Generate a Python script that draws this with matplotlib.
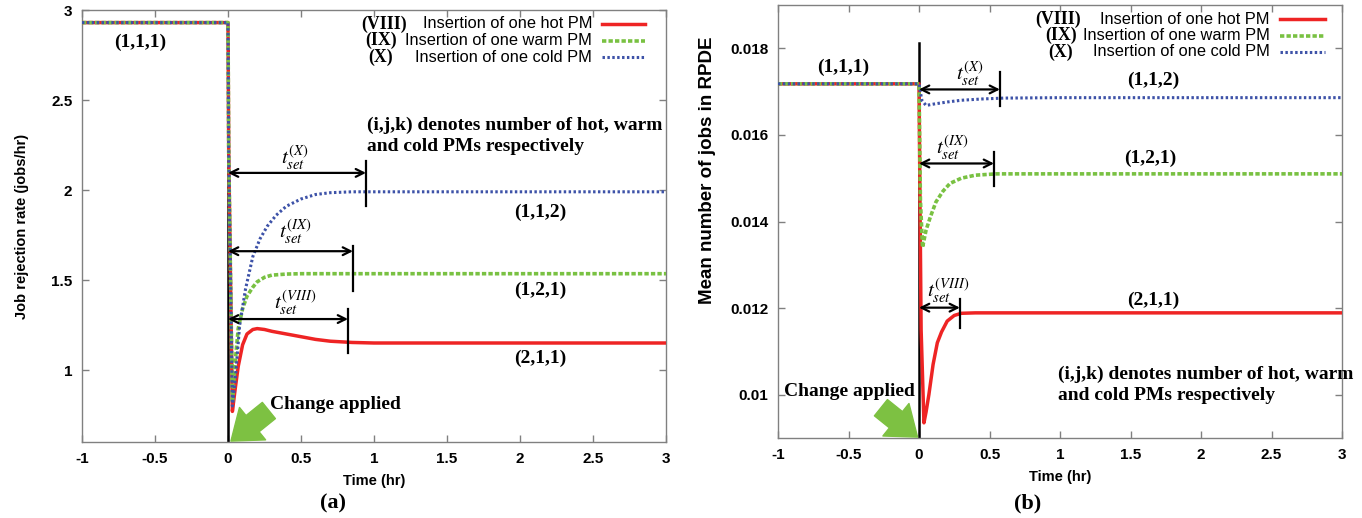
import matplotlib
matplotlib.use("Agg")
import matplotlib.pyplot as plt
from matplotlib.lines import Line2D
import numpy as np

# ---- data ----
# (a) job rejection rate (jobs/hr)
t_hot_a = [-1, 0, 0.005, 0.03, 0.05, 0.07, 0.1, 0.13, 0.17, 0.2, 0.25, 0.3, 0.4, 0.5, 0.6, 0.7, 0.85, 1.0, 3]
hot_a = [2.93, 2.93, 2.2, 0.77, 0.9, 1.02, 1.14, 1.2, 1.225, 1.23, 1.225, 1.215, 1.2, 1.185, 1.17, 1.16, 1.153, 1.15, 1.15]
t_warm_a = [-1, 0, 0.005, 0.03, 0.05, 0.07, 0.1, 0.13, 0.17, 0.2, 0.25, 0.3, 0.4, 0.5, 3]
warm_a = [2.93, 2.93, 2.2, 0.82, 1.05, 1.23, 1.34, 1.41, 1.46, 1.49, 1.515, 1.527, 1.533, 1.535, 1.535]
t_cold_a = [-1, 0, 0.005, 0.03, 0.05, 0.08, 0.12, 0.17, 0.22, 0.27, 0.33, 0.4, 0.5, 0.6, 0.7, 0.85, 1.0, 3]
cold_a = [2.93, 2.93, 2.2, 0.8, 0.95, 1.25, 1.45, 1.63, 1.73, 1.8, 1.86, 1.91, 1.95, 1.975, 1.985, 1.99, 1.99, 1.99]

# (b) mean number of jobs in RPDE
t_hot_b = [-1, 0, 0.015, 0.035, 0.05, 0.07, 0.1, 0.13, 0.16, 0.2, 0.25, 0.3, 0.4, 3]
hot_b = [0.01718, 0.01718, 0.0115, 0.00935, 0.0096, 0.0100, 0.0107, 0.0112, 0.01145, 0.0117, 0.01183, 0.01188, 0.01189, 0.01189]
t_warm_b = [-1, 0, 0.01, 0.025, 0.05, 0.08, 0.12, 0.17, 0.22, 0.3, 0.4, 0.55, 3]
warm_b = [0.01718, 0.01718, 0.0145, 0.0134, 0.0138, 0.0141, 0.01445, 0.0147, 0.01488, 0.0150, 0.01507, 0.0151, 0.0151]
t_cold_b = [-1, 0, 0.02, 0.05, 0.1, 0.2, 0.3, 0.45, 0.6, 1.0, 3]
cold_b = [0.01718, 0.01718, 0.0168, 0.01668, 0.01671, 0.01676, 0.0168, 0.01683, 0.01685, 0.01686, 0.01686]

legend_tags = ["(VIII)", "(IX)", "(X)"]
legend_texts = ["Insertion of one hot PM", "Insertion of one warm PM", "Insertion of one cold PM"]
tset_tags = ["X", "IX", "VIII"]

# settling-time markers: (end time, arrow y, bar low, bar high)
tset_a = [(0.945, 2.095, 1.91, 2.16), (0.856, 1.66, 1.44, 1.69), (0.822, 1.283, 1.094, 1.34)]
tset_b = [(0.574, 0.01705, 0.01666, 0.01745), (0.532, 0.01534, 0.01481, 0.0156), (0.29, 0.01201, 0.01153, 0.01222)]

RED = "#ee2424"
GREEN = "#79c142"
BLUE = "#3d52a8"
ARROW_GREEN = "#7dc142"

plt.rcParams["mathtext.fontset"] = "stix"
SERIF = "Liberation Serif"
SANS = "Liberation Sans"

fig = plt.figure(figsize=(13.62, 5.18), dpi=100)
ax1 = fig.add_axes([82 / 1362, 1 - 442 / 518, 584 / 1362, 432 / 518])
ax2 = fig.add_axes([778 / 1362, 1 - 438 / 518, 564 / 1362, 433 / 518])


def draw_curves(ax, th, h, tw, w, tc, c):
    ax.plot(th, h, color=RED, lw=2.5, solid_joinstyle="round", zorder=3)
    ax.plot(tw, w, color=GREEN, lw=2.6, dashes=(1.2, 0.6), zorder=4)
    ax.plot(tc, c, color=BLUE, lw=2.2, dashes=(0.8, 0.8), zorder=5)


def style_axes(ax):
    for s in ax.spines.values():
        s.set_color("#808080")
        s.set_linewidth(1.0)
    ax.tick_params(direction="in", top=True, right=True, length=5, width=1,
                   color="#808080", pad=7, labelsize=11)
    for lab in ax.get_xticklabels() + ax.get_yticklabels():
        lab.set_fontfamily(SANS)
        lab.set_fontweight("bold")


def draw_legend(ax, rows_y, text_x, tag_x, line_x0, line_x1):
    styles = [dict(color=RED, lw=2.5),
              dict(color=GREEN, lw=2.6, dashes=(1.2, 0.6)),
              dict(color=BLUE, lw=2.2, dashes=(0.8, 0.8))]
    for y, tag, txt, tx, st in zip(rows_y, legend_tags, legend_texts, tag_x, styles):
        ax.text(tx, y, tag, transform=ax.transAxes, family=SERIF, weight="bold",
                fontsize=12.8, ha="left", va="center")
        ax.text(text_x, y, txt, transform=ax.transAxes, family=SANS,
                fontsize=11.8, ha="right", va="center")
        ax.add_line(Line2D([line_x0, line_x1], [y, y], transform=ax.transAxes, **st))


def draw_tset(ax, marks, label_pos):
    for (xe, ya, lo, hi), tag, (lx, ly) in zip(marks, tset_tags, label_pos):
        ax.annotate("", xy=(xe, ya), xytext=(0, ya),
                    arrowprops=dict(arrowstyle="<->", color="black", lw=1.6,
                                    shrinkA=0, shrinkB=0, mutation_scale=14), zorder=6)
        ax.plot([xe, xe], [lo, hi], color="black", lw=1.6, zorder=6)
        ax.text(lx, ly, r"$t_{set}^{(" + tag + ")}$", fontsize=15, ha="center", va="center")


def serif_text(ax, x, y, s, **kw):
    kw.setdefault("ha", "center")
    kw.setdefault("va", "center")
    ax.text(x, y, s, family=SERIF, weight="bold", fontsize=14, **kw)


# ---------- panel (a) ----------
draw_curves(ax1, t_hot_a, hot_a, t_warm_a, warm_a, t_cold_a, cold_a)
ax1.plot([0, 0], [0.6, 2.79], color="black", lw=1.8, zorder=2)
ax1.set_xlim(-1, 3)
ax1.set_ylim(0.6, 3)
ax1.set_xticks(np.arange(-1, 3.01, 0.5))
ax1.set_xticklabels(["-1", "-0.5", "0", "0.5", "1", "1.5", "2", "2.5", "3"])
ax1.set_yticks([1, 1.5, 2, 2.5, 3])
ax1.set_yticklabels(["1", "1.5", "2", "2.5", "3"])
style_axes(ax1)
ax1.set_xlabel("Time (hr)", family=SANS, weight="bold", fontsize=10.5, labelpad=6)
ax1.set_ylabel("Job rejection rate (jobs/hr)", family=SANS, weight="bold", fontsize=10.5, labelpad=16)

draw_legend(ax1, [1 - 14 / 432, 1 - 30.5 / 432, 1 - 47 / 432], 0.8733,
            [0.479, 0.485, 0.490], 0.890, 0.964)
draw_tset(ax1, tset_a, [(0.46, 2.18), (0.46, 1.767), (0.46, 1.372)])
serif_text(ax1, -0.6, 2.82, "(1,1,1)")
serif_text(ax1, 2.14, 1.876, "(1,1,2)")
serif_text(ax1, 2.14, 1.44, "(1,2,1)")
serif_text(ax1, 2.14, 1.067, "(2,1,1)")
serif_text(ax1, 0.952, 2.303, "(i,j,k) denotes number of hot, warm\nand cold PMs respectively",
           ha="left", linespacing=1.3)
serif_text(ax1, 0.288, 0.81, "Change applied", ha="left")
ax1.annotate("", xy=(0.02, 0.605), xytext=(0.28, 0.775),
             arrowprops=dict(arrowstyle="simple,head_width=1.5,head_length=1.0,tail_width=0.75",
                             color=ARROW_GREEN, shrinkA=0, shrinkB=0, mutation_scale=20),
             annotation_clip=False, zorder=7)

# ---------- panel (b) ----------
draw_curves(ax2, t_hot_b, hot_b, t_warm_b, warm_b, t_cold_b, cold_b)
ax2.plot([0, 0], [0.009, 0.01812], color="black", lw=1.8, zorder=2)
ax2.set_xlim(-1, 3)
ax2.set_ylim(0.009, 0.019)
ax2.set_xticks(np.arange(-1, 3.01, 0.5))
ax2.set_xticklabels(["-1", "-0.5", "0", "0.5", "1", "1.5", "2", "2.5", "3"])
ax2.set_yticks([0.010, 0.012, 0.014, 0.016, 0.018])
ax2.set_yticklabels(["0.01", "0.012", "0.014", "0.016", "0.018"])
style_axes(ax2)
ax2.set_xlabel("Time (hr)", family=SANS, weight="bold", fontsize=10.5, labelpad=6)
fig.text(707 / 1362, 1 - 170 / 518, "Mean number of jobs in RPDE", family=SANS, weight="bold",
         fontsize=13.5, rotation=90, ha="center", va="center")

draw_legend(ax2, [1 - 14 / 433, 1 - 30.5 / 433, 1 - 47 / 433], (1270 - 778) / 564,
            [(1035 - 778) / 564, (1045 - 778) / 564, (1048 - 778) / 564],
            (1280 - 778) / 564, (1325 - 778) / 564)
draw_tset(ax2, tset_b, [(0.36, 0.01742), (0.234, 0.01569), (0.206, 0.0124)])
serif_text(ax2, -0.54, 0.01756, "(1,1,1)")
serif_text(ax2, 1.66, 0.01726, "(1,1,2)")
serif_text(ax2, 1.64, 0.01546, "(1,2,1)")
serif_text(ax2, 1.66, 0.01217, "(2,1,1)")
serif_text(ax2, 0.986, 0.01022, "(i,j,k) denotes number of hot, warm\nand cold PMs respectively",
           ha="left", linespacing=1.3)
serif_text(ax2, -0.03, 0.01007, "Change applied", ha="right")
ax2.annotate("", xy=(-0.01, 0.00902), xytext=(-0.27, 0.0097),
             arrowprops=dict(arrowstyle="simple,head_width=1.5,head_length=1.0,tail_width=0.75",
                             color=ARROW_GREEN, shrinkA=0, shrinkB=0, mutation_scale=20),
             annotation_clip=False, zorder=7)

fig.text(333 / 1362, 1 - 503 / 518, "(a)", family=SERIF, weight="bold", fontsize=16,
         ha="center", va="center")
fig.text(1028 / 1362, 1 - 503 / 518, "(b)", family=SERIF, weight="bold", fontsize=16,
         ha="center", va="center")

fig.savefig("out.png", dpi=100)
